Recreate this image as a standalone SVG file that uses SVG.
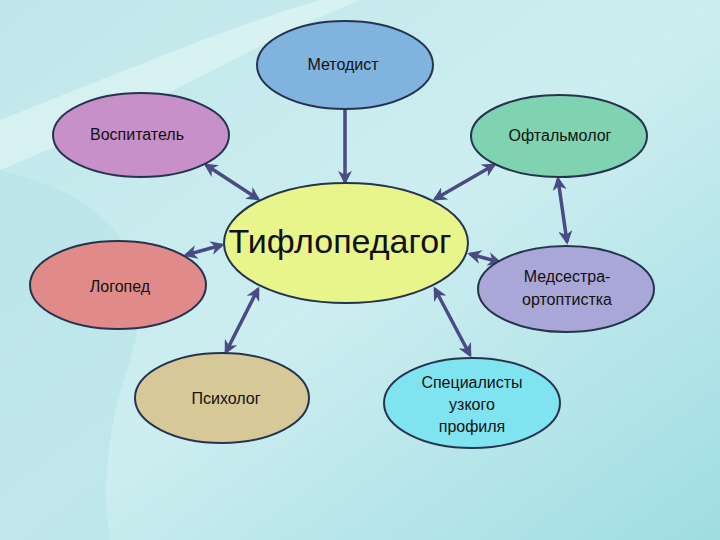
<svg xmlns="http://www.w3.org/2000/svg" width="720" height="540" viewBox="0 0 720 540">
<defs>
<linearGradient id="bg" x1="0" y1="0" x2="1" y2="1">
<stop offset="0" stop-color="#bfe7ea"/><stop offset="0.5" stop-color="#cdeef0"/><stop offset="1" stop-color="#9fdde3"/>
</linearGradient>
<marker id="ah" viewBox="0 0 10 10" refX="8" refY="5" markerWidth="4" markerHeight="4" orient="auto-start-reverse">
<path d="M0,0 L10,5 L0,10 L3,5 Z" fill="#4a4a85"/>
</marker>
<style>
.n{stroke:#26334f;stroke-width:2}
.t{font-family:"Liberation Sans","DejaVu Sans",sans-serif;font-size:16px;fill:#111;text-anchor:middle}
.c{stroke:#4a4a85;stroke-width:3.5;fill:none;marker-end:url(#ah)}
.d{marker-start:url(#ah)}
</style>
</defs>
<rect width="720" height="540" fill="url(#bg)"/>
<path d="M0,120 C150,60 250,20 320,0 L360,0 C260,40 150,110 0,170 Z" fill="#e4f6f7" opacity="0.6"/>
<path d="M0,170 C120,200 160,260 130,360 C110,420 100,480 110,540 L0,540 Z" fill="#b3e2e7" opacity="0.5"/>
<g id="connectors">
<line class="c" x1="345" y1="108" x2="345" y2="182"/>
<line class="c d" x1="206" y1="165" x2="258" y2="199"/>
<line class="c d" x1="494" y1="165" x2="435" y2="199"/>
<line class="c d" x1="558" y1="179" x2="567" y2="242"/>
<line class="c d" x1="186" y1="255" x2="222" y2="245"/>
<line class="c d" x1="470" y1="254" x2="499" y2="262"/>
<line class="c d" x1="258" y1="289" x2="226" y2="352"/>
<line class="c d" x1="435" y1="289" x2="470" y2="355"/>
</g>
<g id="metodist"><ellipse class="n" cx="345" cy="65" rx="88" ry="44" fill="#80b4de"/><text class="t" x="343" y="70">Методист</text></g>
<g id="vospitatel"><ellipse class="n" cx="141" cy="135" rx="88" ry="42" fill="#c890c9"/><text class="t" x="137" y="140">Воспитатель</text></g>
<g id="oftalmolog"><ellipse class="n" cx="559" cy="136" rx="88" ry="41" fill="#80d3b1"/><text class="t" x="560" y="141">Офтальмолог</text></g>
<g id="tifloped"><ellipse class="n" cx="346" cy="243" rx="122" ry="60" fill="#e8f58a"/><text class="t" x="340" y="253" style="font-size:34px">Тифлопедагог</text></g>
<g id="logoped"><ellipse class="n" cx="118" cy="285" rx="88" ry="44" fill="#e08b8a"/><text class="t" x="120" y="292">Логопед</text></g>
<g id="medsestra"><ellipse class="n" cx="566" cy="289" rx="88" ry="43" fill="#a9a7d8"/><text class="t" x="567" y="282">Медсестра-</text><text class="t" x="567" y="305">ортоптистка</text></g>
<g id="psiholog"><ellipse class="n" cx="222" cy="398" rx="87" ry="45" fill="#d6c897"/><text class="t" x="226" y="404">Психолог</text></g>
<g id="specialisty"><ellipse class="n" cx="472" cy="403" rx="88" ry="45" fill="#80e4f0"/><text class="t" x="472" y="388">Специалисты</text><text class="t" x="472" y="410">узкого</text><text class="t" x="472" y="432">профиля</text></g>
</svg>
